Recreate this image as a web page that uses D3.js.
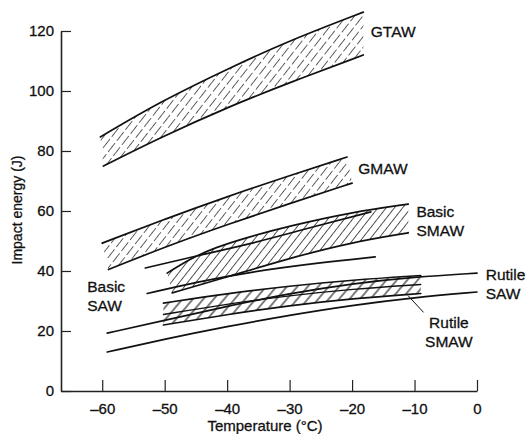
<!DOCTYPE html>
<html><head><meta charset="utf-8">
<script src="https://cdn.jsdelivr.net/npm/d3@7/dist/d3.min.js"></script>
<style>
body{margin:0;background:#fff;}
text{font-family:"Liberation Sans",Arial,Helvetica,sans-serif;fill:#111;stroke:#111;stroke-width:0.3px;}
</style></head>
<body><svg id="c" width="527" height="434"></svg>
<script>
// ---- data: [temperature °C, impact energy J]
const xTicks = [-60,-50,-40,-30,-20,-10,0];
const yTicks = [0,20,40,60,80,100,120];

const gtawUpper = [[-60.3,84.7],[-50.7,96.5],[-39.5,107.8],[-30.4,116.5],[-18.2,126.3]];
const gtawLower = [[-59.8,75],[-50.7,84.5],[-39.5,95],[-30,102.8],[-18.2,112]];

const gmawUpper = [[-60,49.3],[-50,57.3],[-40,64.8],[-30,71.8],[-20.8,78]];
const gmawLower = [[-59,40.5],[-50,48],[-40,55.5],[-30,62.5],[-20,69.3]];

const basicSmawUpper = [[-49.6,39.3],[-46,44],[-42,47.8],[-36.3,51.5],[-30,55],[-20,59.6],[-11,62.3]];
const basicSmawLower = [[-48.8,32.7],[-40,38],[-30,44.3],[-20,49.6],[-11,52.7]];

const basicSawUpper = [[-53.1,41],[-45,45],[-36.3,49],[-27,54.3],[-17,59.7]];
const basicSawLower = [[-52.8,32.5],[-45,36.3],[-36.3,39.7],[-25,42.8],[-16.3,44.7]];

const rutileSmawUpper = [[-50.2,29.3],[-40,32.5],[-30,35],[-20,37],[-9,38.5]];
const rutileSmawMiddle = [[-50.2,25.5],[-40,29],[-30,31.8],[-20,34],[-9,35.5]];
const rutileSmawLower = [[-50.2,22],[-40,25.5],[-30,28.5],[-20,30.8],[-9,32.5]];

const rutileSawUpper = [[-59.2,19.3],[-50,23.5],[-40,28.3],[-30,32.5],[-20,35.8],[-10,38],[0,39.3]];
const rutileSawLower = [[-59.2,13],[-50,17.3],[-40,21.5],[-30,25.3],[-20,28.6],[-10,31.2],[0,33]];

const rutileSmawLeader = [[-11,31.7],[-8.6,26.3]];

const labels = [
  {lines:["GTAW"], t:-17, e:118, anchor:"start"},
  {lines:["GMAW"], t:-19, e:72.5, anchor:"start"},
  {lines:["Basic","SMAW"], t:-9.7, e:58, anchor:"start"},
  {lines:["Basic","SAW"], t:-62.4, e:33, anchor:"start"},
  {lines:["Rutile","SAW"], t:1.4, e:37, anchor:"start"},
  {lines:["Rutile","SMAW"], t:-4.5, e:21, anchor:"middle"}
];

// ---- chart
const svg = d3.select("#c");
const x = d3.scaleLinear().domain([-66.6,0]).range([61,477]);
const y = d3.scaleLinear().domain([0,120]).range([391,31]);

const defs = svg.append("defs");
function hatch(id, spacing, angle, dash, w, col){
  const p = defs.append("pattern").attr("id",id).attr("patternUnits","userSpaceOnUse")
    .attr("width",spacing).attr("height",14).attr("patternTransform",`rotate(${angle})`);
  p.append("line").attr("x1",spacing/2).attr("x2",spacing/2).attr("y1",0).attr("y2",14)
    .attr("stroke",col).attr("stroke-width",w).attr("stroke-dasharray",dash);
}
hatch("hDash",6.5,38,"11,3",0.8,"#333");
hatch("hSolid",6.5,38,null,0.8,"#222");
hatch("hRut",8,40,null,1.1,"#111");

const line = d3.line().x(d=>x(d[0])).y(d=>y(d[1])).curve(d3.curveBasis);
function band(up, lo, fillId){
  const d = line(up) + "L" + line(lo.slice().reverse()).slice(1) + "Z";
  svg.append("path").attr("d",d).attr("fill",`url(#${fillId})`).attr("stroke","none");
}
function stroke(pts, w){
  svg.append("path").attr("d",line(pts)).attr("fill","none").attr("stroke","#111")
    .attr("stroke-width",w||1.7).attr("stroke-linecap","round");
}

band(gtawUpper,gtawLower,"hDash");
band(gmawUpper,gmawLower,"hDash");
band(basicSmawUpper,basicSmawLower,"hSolid");
band(rutileSmawUpper,rutileSmawMiddle,"hRut");
band(rutileSmawMiddle,rutileSmawLower,"hRut");

[gtawUpper,gtawLower,gmawUpper,gmawLower,basicSmawUpper,basicSmawLower,
 basicSawUpper,basicSawLower,rutileSmawUpper,rutileSmawLower,rutileSawUpper,rutileSawLower]
 .forEach(p=>stroke(p));
stroke(rutileSmawMiddle,1.3);
stroke(rutileSmawLeader,1);

// axes
const fmt = d => d<0 ? "\u2013"+Math.abs(d) : String(d);
const ax = svg.append("g").attr("transform","translate(0,391)")
  .call(d3.axisBottom(x).tickValues(xTicks).tickFormat(fmt).tickSizeInner(-11).tickSizeOuter(0).tickPadding(9));
const ay = svg.append("g").attr("transform","translate(61,0)")
  .call(d3.axisLeft(y).tickValues(yTicks).tickSizeInner(-10).tickSizeOuter(0).tickPadding(7));
[ax,ay].forEach(g=>{
  g.select(".domain").attr("stroke","#222").attr("stroke-width",1.6);
  g.selectAll(".tick line").attr("stroke","#222").attr("stroke-width",1.2);
  g.selectAll("text").style("font-size","15px").attr("fill","#111");
});
ax.selectAll("text").attr("dy","0.9em");

svg.append("text").attr("x",265).attr("y",431).attr("text-anchor","middle")
  .style("font-size","15px").text("Temperature (°C)");
svg.append("text").attr("transform","translate(22,210) rotate(-90)").attr("text-anchor","middle")
  .style("font-size","14px").text("Impact energy (J)");

labels.forEach(l=>{
  const t = svg.append("text").attr("x",x(l.t)).attr("y",y(l.e)).attr("text-anchor",l.anchor)
    .style("font-size","15.5px");
  l.lines.forEach((s,i)=>t.append("tspan").attr("x",x(l.t)).attr("dy",i?"1.2em":0).text(s));
});
</script></body></html>
